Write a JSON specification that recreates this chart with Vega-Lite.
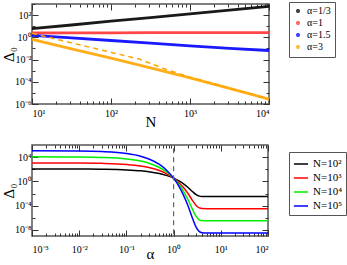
{
  "$schema": "https://vega.github.io/schema/vega-lite/v6.json",
  "padding": {"left": 0, "top": 0, "right": 0, "bottom": 0},
  "spacing": 13,
  "config": {
    "view": {"stroke": "#555", "strokeWidth": 1.5},
    "axis": {"domain": false, "grid": false, "labelFont": "Liberation Serif", "labelFontSize": 10, "titleFont": "Liberation Serif", "titleFontSize": 15, "titleFontWeight": "normal", "tickColor": "#333", "labelColor": "#000", "titleColor": "#000"},
    "legend": {"labelFont": "Liberation Serif", "labelFontSize": 10, "strokeColor": "#555", "fillColor": "white", "padding": 4, "rowPadding": 0, "title": null}
  },
  "resolve": {"scale": {"color": "independent"}, "legend": {"color": "independent"}},
  "vconcat": [
    {
      "width": 237,
      "height": 100,
      "resolve": {"axis": {"x": "independent", "y": "independent"}},
      "layer": [
        {
          "data": {"values": [
            {"s": "α=1/3", "N": 10, "D": 6.03}, {"s": "α=1/3", "N": 31.62, "D": 12.9}, {"s": "α=1/3", "N": 100, "D": 28.2}, {"s": "α=1/3", "N": 316.2, "D": 60.3}, {"s": "α=1/3", "N": 1000, "D": 129}, {"s": "α=1/3", "N": 3162, "D": 282}, {"s": "α=1/3", "N": 10000, "D": 603},
            {"s": "α=1", "N": 10, "D": 2.45}, {"s": "α=1", "N": 31.62, "D": 2.5}, {"s": "α=1", "N": 100, "D": 2.55}, {"s": "α=1", "N": 316.2, "D": 2.6}, {"s": "α=1", "N": 1000, "D": 2.63}, {"s": "α=1", "N": 3162, "D": 2.66}, {"s": "α=1", "N": 10000, "D": 2.7},
            {"s": "α=1.5", "N": 10, "D": 1.5}, {"s": "α=1.5", "N": 31.62, "D": 0.88}, {"s": "α=1.5", "N": 100, "D": 0.52}, {"s": "α=1.5", "N": 316.2, "D": 0.3}, {"s": "α=1.5", "N": 1000, "D": 0.17}, {"s": "α=1.5", "N": 3162, "D": 0.1}, {"s": "α=1.5", "N": 10000, "D": 0.065},
            {"s": "α=3", "N": 10, "D": 0.661}, {"s": "α=3", "N": 31.62, "D": 0.0933}, {"s": "α=3", "N": 100, "D": 0.0132}, {"s": "α=3", "N": 316.2, "D": 0.00182}, {"s": "α=3", "N": 1000, "D": 0.000224}, {"s": "α=3", "N": 3162, "D": 0.0000251}, {"s": "α=3", "N": 10000, "D": 0.00000275}
          ]},
          "mark": {"type": "line", "strokeWidth": 2.8, "opacity": 0.9},
          "encoding": {
            "x": {"field": "N", "type": "quantitative", "scale": {"type": "log", "domain": [10, 10000]},
              "axis": {"orient": "bottom", "title": "N", "titlePadding": -4,
                "values": [10,20,30,40,50,60,70,80,90,100,200,300,400,500,600,700,800,900,1000,2000,3000,4000,5000,6000,7000,8000,9000,10000],
                "tickSize": {"condition": {"test": "abs(log(datum.value)/LN10 - round(log(datum.value)/LN10)) < 0.001", "value": -6}, "value": -3},
                "labelPadding": 10,
                "labelExpr": "abs(log(datum.value)/LN10 - round(log(datum.value)/LN10)) < 0.001 ? '10' + (datum.value < 0.5 ? '⁻' : '') + substring('⁰¹²³⁴⁵⁶⁷⁸⁹', abs(round(log(datum.value)/LN10)), abs(round(log(datum.value)/LN10)) + 1) : ''"}},
            "y": {"field": "D", "type": "quantitative", "scale": {"type": "log", "domain": [0.000001, 1000]},
              "axis": {"orient": "left", "title": "Δ₀", "titlePadding": -2,
                "values": [0.000001, 0.00001, 0.0001, 0.001, 0.01, 0.1, 1, 10, 100, 1000],
                "tickSize": {"condition": {"test": "abs(log(datum.value)/LN10/2 - round(log(datum.value)/LN10/2)) < 0.001", "value": -6}, "value": -3},
                "labelPadding": 7,
                "labelExpr": "abs(log(datum.value)/LN10/2 - round(log(datum.value)/LN10/2)) < 0.001 ? '10' + (datum.value < 0.5 ? '⁻' : '') + substring('⁰¹²³⁴⁵⁶⁷⁸⁹', abs(round(log(datum.value)/LN10)), abs(round(log(datum.value)/LN10)) + 1) : ''"}},
            "color": {"field": "s", "type": "nominal",
              "scale": {"domain": ["α=1/3", "α=1", "α=1.5", "α=3"], "range": ["#000000", "#ff3333", "#0000ff", "#ffa500"]},
              "legend": {"orient": "none", "legendX": 257, "legendY": -2, "symbolType": "circle", "symbolSize": 2, "symbolStrokeWidth": 2.5}}
          }
        },
        {
          "data": {"values": [{"N": 10, "D": 2.29}, {"N": 233, "D": 0.0105}, {"N": 501, "D": 0.00126}, {"N": 1000, "D": 0.000263}, {"N": 3162, "D": 0.0000263}, {"N": 10000, "D": 0.00000275}]},
          "mark": {"type": "line", "strokeDash": [5, 4], "color": "#ffa500", "strokeWidth": 1.5},
          "encoding": {
            "x": {"field": "N", "type": "quantitative", "scale": {"type": "log"},
              "axis": {"orient": "top", "title": null, "labels": false,
                "values": [10,20,30,40,50,60,70,80,90,100,200,300,400,500,600,700,800,900,1000,2000,3000,4000,5000,6000,7000,8000,9000,10000],
                "tickSize": {"condition": {"test": "abs(log(datum.value)/LN10 - round(log(datum.value)/LN10)) < 0.001", "value": -6}, "value": -3}}},
            "y": {"field": "D", "type": "quantitative", "scale": {"type": "log"},
              "axis": {"orient": "right", "title": null, "labels": false,
                "values": [0.000001, 0.00001, 0.0001, 0.001, 0.01, 0.1, 1, 10, 100, 1000],
                "tickSize": {"condition": {"test": "abs(log(datum.value)/LN10/2 - round(log(datum.value)/LN10/2)) < 0.001", "value": -6}, "value": -3}}}
          }
        }
      ]
    },
    {
      "width": 236,
      "height": 91,
      "resolve": {"axis": {"x": "independent", "y": "independent"}},
      "layer": [
        {
          "data": {"values": [
            {"s": "N=10²", "a": 0.001, "D": 111.7}, {"s": "N=10³", "a": 0.001, "D": 1114}, {"s": "N=10⁴", "a": 0.001, "D": 11120}, {"s": "N=10⁵", "a": 0.001, "D": 110900},
            {"s": "N=10²", "a": 0.01, "D": 108.4}, {"s": "N=10³", "a": 0.01, "D": 1059}, {"s": "N=10⁴", "a": 0.01, "D": 10350}, {"s": "N=10⁵", "a": 0.01, "D": 101200},
            {"s": "N=10²", "a": 0.03, "D": 101.0}, {"s": "N=10³", "a": 0.03, "D": 943}, {"s": "N=10⁴", "a": 0.03, "D": 8800}, {"s": "N=10⁵", "a": 0.03, "D": 82100},
            {"s": "N=10²", "a": 0.1, "D": 79.1}, {"s": "N=10³", "a": 0.1, "D": 628}, {"s": "N=10⁴", "a": 0.1, "D": 4990}, {"s": "N=10⁵", "a": 0.1, "D": 39630},
            {"s": "N=10²", "a": 0.2, "D": 55.8}, {"s": "N=10³", "a": 0.2, "D": 352}, {"s": "N=10⁴", "a": 0.2, "D": 2220}, {"s": "N=10⁵", "a": 0.2, "D": 14030},
            {"s": "N=10²", "a": 0.3, "D": 39.4}, {"s": "N=10³", "a": 0.3, "D": 197}, {"s": "N=10⁴", "a": 0.3, "D": 989}, {"s": "N=10⁵", "a": 0.3, "D": 4955},
            {"s": "N=10²", "a": 0.5, "D": 19.6}, {"s": "N=10³", "a": 0.5, "D": 61.9}, {"s": "N=10⁴", "a": 0.5, "D": 196}, {"s": "N=10⁵", "a": 0.5, "D": 619},
            {"s": "N=10²", "a": 0.7, "D": 9.73}, {"s": "N=10³", "a": 0.7, "D": 19.4}, {"s": "N=10⁴", "a": 0.7, "D": 38.7}, {"s": "N=10⁵", "a": 0.7, "D": 77.3},
            {"s": "N=10²", "a": 1, "D": 3.41}, {"s": "N=10³", "a": 1, "D": 3.41}, {"s": "N=10⁴", "a": 1, "D": 3.41}, {"s": "N=10⁵", "a": 1, "D": 3.41},
            {"s": "N=10²", "a": 1.3, "D": 1.197}, {"s": "N=10³", "a": 1.3, "D": 0.601}, {"s": "N=10⁴", "a": 1.3, "D": 0.301}, {"s": "N=10⁵", "a": 1.3, "D": 0.151},
            {"s": "N=10²", "a": 1.6, "D": 0.42}, {"s": "N=10³", "a": 1.6, "D": 0.1054}, {"s": "N=10⁴", "a": 1.6, "D": 0.0265}, {"s": "N=10⁵", "a": 1.6, "D": 0.00665},
            {"s": "N=10²", "a": 2, "D": 0.1076}, {"s": "N=10³", "a": 2, "D": 0.01102}, {"s": "N=10⁴", "a": 2, "D": 0.001127}, {"s": "N=10⁵", "a": 2, "D": 0.0001153},
            {"s": "N=10²", "a": 2.5, "D": 0.02158}, {"s": "N=10³", "a": 2.5, "D": 0.000766}, {"s": "N=10⁴", "a": 2.5, "D": 0.0000272}, {"s": "N=10⁵", "a": 2.5, "D": 9.64e-7},
            {"s": "N=10²", "a": 3, "D": 0.00658}, {"s": "N=10³", "a": 3, "D": 0.0001068}, {"s": "N=10⁴", "a": 3, "D": 0.000001731}, {"s": "N=10⁵", "a": 3, "D": 2.81e-8},
            {"s": "N=10²", "a": 3.5, "D": 0.00377}, {"s": "N=10³", "a": 3.5, "D": 0.0000423}, {"s": "N=10⁴", "a": 3.5, "D": 4.74e-7}, {"s": "N=10⁵", "a": 3.5, "D": 5.32e-9},
            {"s": "N=10²", "a": 4, "D": 0.00327}, {"s": "N=10³", "a": 4, "D": 0.0000335}, {"s": "N=10⁴", "a": 4, "D": 3.43e-7}, {"s": "N=10⁵", "a": 4, "D": 3.51e-9},
            {"s": "N=10²", "a": 5, "D": 0.00316}, {"s": "N=10³", "a": 5, "D": 0.0000316}, {"s": "N=10⁴", "a": 5, "D": 3.16e-7}, {"s": "N=10⁵", "a": 5, "D": 3.16e-9},
            {"s": "N=10²", "a": 10, "D": 0.00316}, {"s": "N=10³", "a": 10, "D": 0.0000316}, {"s": "N=10⁴", "a": 10, "D": 3.16e-7}, {"s": "N=10⁵", "a": 10, "D": 3.16e-9},
            {"s": "N=10²", "a": 100, "D": 0.00316}, {"s": "N=10³", "a": 100, "D": 0.0000316}, {"s": "N=10⁴", "a": 100, "D": 3.16e-7}, {"s": "N=10⁵", "a": 100, "D": 3.16e-9}
          ]},
          "mark": {"type": "line", "strokeWidth": 1.5, "interpolate": "monotone"},
          "encoding": {
            "x": {"field": "a", "type": "quantitative", "scale": {"type": "log", "domain": [0.001, 100]},
              "axis": {"orient": "bottom", "title": "α", "titlePadding": -8,
                "values": [0.001,0.002,0.003,0.004,0.005,0.006,0.007,0.008,0.009,0.01,0.02,0.03,0.04,0.05,0.06,0.07,0.08,0.09,0.1,0.2,0.3,0.4,0.5,0.6,0.7,0.8,0.9,1,2,3,4,5,6,7,8,9,10,20,30,40,50,60,70,80,90,100],
                "tickSize": {"condition": {"test": "abs(log(datum.value)/LN10 - round(log(datum.value)/LN10)) < 0.001", "value": -6}, "value": -3},
                "labelPadding": 14,
                "labelExpr": "abs(log(datum.value)/LN10 - round(log(datum.value)/LN10)) < 0.001 ? '10' + (datum.value < 0.5 ? '⁻' : '') + substring('⁰¹²³⁴⁵⁶⁷⁸⁹', abs(round(log(datum.value)/LN10)), abs(round(log(datum.value)/LN10)) + 1) : ''"}},
            "y": {"field": "D", "type": "quantitative", "scale": {"type": "log", "domain": [1e-9, 300000]},
              "axis": {"orient": "left", "title": "Δ₀", "titlePadding": -2,
                "values": [1e-8, 1e-6, 0.0001, 0.01, 1, 100, 10000],
                "tickSize": {"condition": {"test": "abs(log(datum.value)/LN10/4 - round(log(datum.value)/LN10/4)) < 0.001", "value": -6}, "value": -3},
                "labelPadding": 7,
                "labelExpr": "abs(log(datum.value)/LN10/4 - round(log(datum.value)/LN10/4)) < 0.001 ? '10' + (datum.value < 0.5 ? '⁻' : '') + substring('⁰¹²³⁴⁵⁶⁷⁸⁹', abs(round(log(datum.value)/LN10)), abs(round(log(datum.value)/LN10)) + 1) : ''"}},
            "color": {"field": "s", "type": "nominal",
              "scale": {"domain": ["N=10²", "N=10³", "N=10⁴", "N=10⁵"], "range": ["#000000", "#ff0000", "#00ee00", "#0000ff"]},
              "legend": {"orient": "none", "legendX": 257, "legendY": 7, "symbolType": "stroke", "symbolStrokeWidth": 1.5, "symbolSize": 200, "rowPadding": 1, "labelFontSize": 11}}
          }
        },
        {
          "data": {"values": [{"a": 1, "D": 300000}, {"a": 1, "D": 1e-9}]},
          "mark": {"type": "line", "strokeDash": [5, 4], "color": "#666", "strokeWidth": 1.2},
          "encoding": {
            "x": {"field": "a", "type": "quantitative", "scale": {"type": "log"},
              "axis": {"orient": "top", "title": null, "labels": false,
                "values": [0.001,0.002,0.003,0.004,0.005,0.006,0.007,0.008,0.009,0.01,0.02,0.03,0.04,0.05,0.06,0.07,0.08,0.09,0.1,0.2,0.3,0.4,0.5,0.6,0.7,0.8,0.9,1,2,3,4,5,6,7,8,9,10,20,30,40,50,60,70,80,90,100],
                "tickSize": {"condition": {"test": "abs(log(datum.value)/LN10 - round(log(datum.value)/LN10)) < 0.001", "value": -6}, "value": -3}}},
            "y": {"field": "D", "type": "quantitative", "scale": {"type": "log"},
              "axis": {"orient": "right", "title": null, "labels": false,
                "values": [1e-8, 1e-6, 0.0001, 0.01, 1, 100, 10000],
                "tickSize": {"condition": {"test": "abs(log(datum.value)/LN10/4 - round(log(datum.value)/LN10/4)) < 0.001", "value": -6}, "value": -3}}}
          }
        }
      ]
    }
  ]
}
